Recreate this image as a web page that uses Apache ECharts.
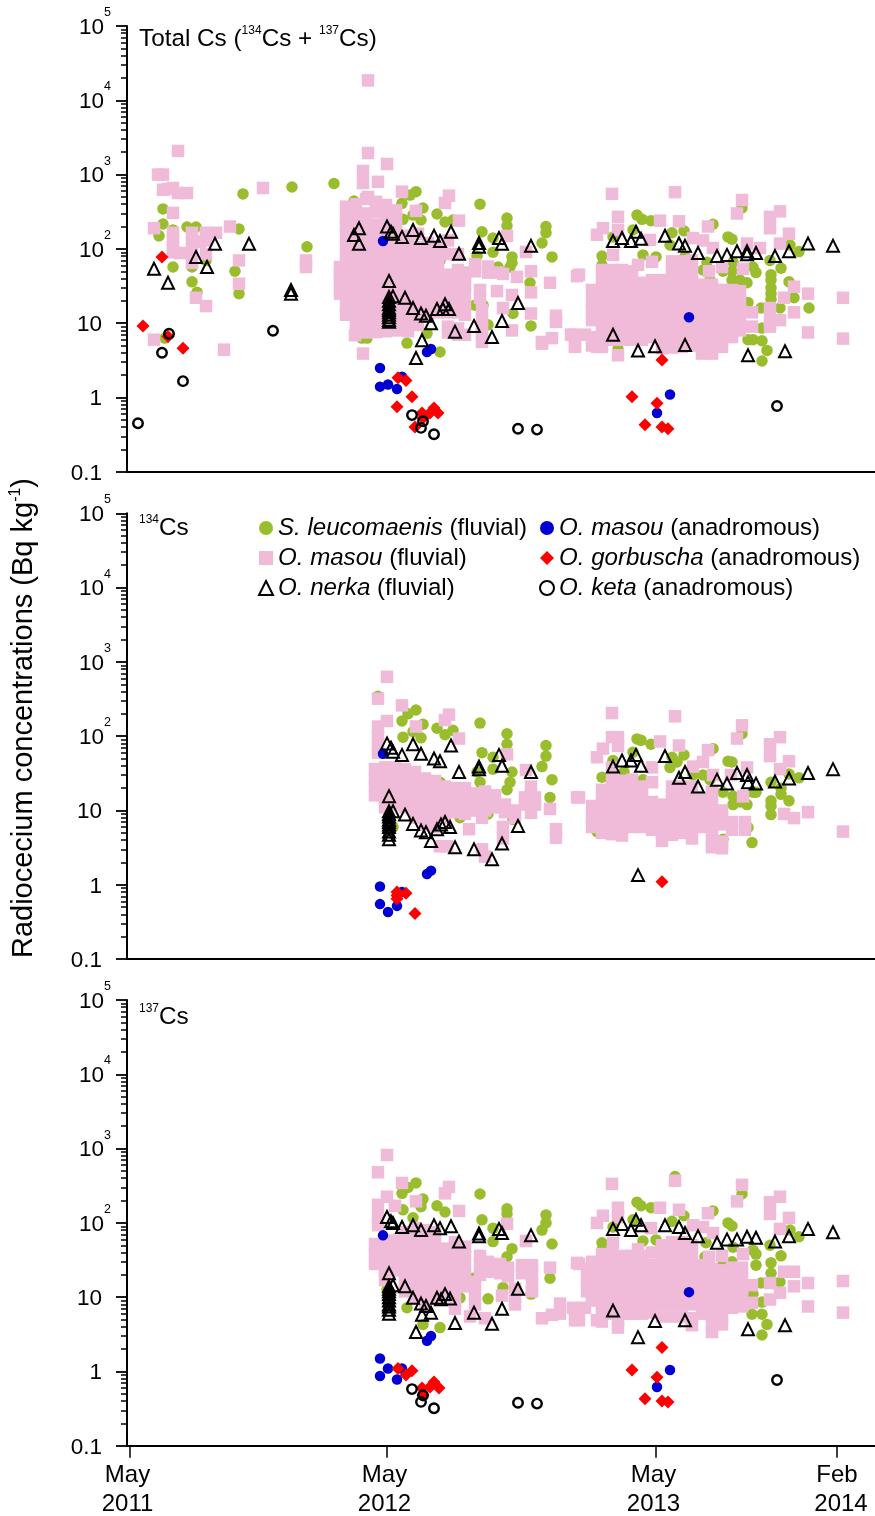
<!DOCTYPE html>
<html><head><meta charset="utf-8">
<style>html,body{margin:0;padding:0;background:#fff}#c{width:875px;height:1516px}</style>
<script src="https://cdn.jsdelivr.net/npm/echarts@6/dist/echarts.min.js"></script>
</head><body><div id="c"></div>
<script>
// x = position along the time axis (May 2011 = 0), y = Bq/kg. Each entry: [x, [values at that x]]
const xOrigin=3; // the axis starts 3 units before May 2011
const xTickValues=[0,257,526,707].map(v=>v+xOrigin);
const xTickLabels=['{a|May}\n{a|2011}','{a|May}\n{a|2012}','{a|May}\n{a|2013}','{c|Feb}\n{d|2014}'];
const decades=[0.1,1,10,100,1000,10000,100000];
const minorValues=[0.2,0.3,0.4,0.5,0.6,0.7,0.8,0.9,2,3,4,5,6,7,8,9,20,30,40,50,60,70,80,90,200,300,400,500,600,700,800,900,2000,3000,4000,5000,6000,7000,8000,9000,20000,30000,40000,50000,60000,70000,80000,90000];
const speciesNames=['S. leucomaenis (fluvial)','O. masou (fluvial)','O. nerka (fluvial)','O. masou (anadromous)','O. gorbuscha (anadromous)','O. keta (anadromous)'];

const totalPink=[[48,[2080]],[28,[1000]],[33,[1000,625]],[38,[640]],[43,[660,305,165,130,105,90]],[48,[565]],[57,[565]],[24,[190,6]],[50,[88]],[62,[165,120,90,65]],[70,[125]],[76,[165,130,85,17]],[86,[165]],[100,[200]],[109,[70,34]],[66,[22]],[94,[4.4]],[133,[660]],[176,[70,57]],
[238,[18500,1950,500]],[257,[1390]],[233,[1120,770,3.9]],[248,[800]],[272,[590]],[286,[325]],[315,[415]],[319,[520]],[329,[240]],[377,[150]],[396,[91]],[447,[43]],[420,[35]],[401,[50,26,13.5]],[426,[12.6,10.4]],[412,[5.6,5.3]],[422,[6.3]],[441,[7]],[445,[5]],[225,[6.9]],
[210,[57,47,38,30,25]],[216,[370,265,205,150,110,78,60,42,33,24,17,13]],[226,[400,280,210,155,108,80,58,44,31,24,17,13,9.5,8]],[236,[470,300,215,150,115,82,60,45,32,23,17,12.5,9,7.5]],[246,[430,310,210,152,112,80,61,43,33,23,18,13,9.5,7.6]],[256,[390,290,208,150,110,82,58,44,31,24,17,12.5,9,7.8]],[266,[330,240,190,140,105,80,58,43,32,24,18,13,10,8]],
[278,[150,110,85,60,45,33,24,18,13,10,7.8]],[288,[160,105,80,60,44,34,25,19,14,9.5]],[298,[120,85,62,44,33,25,18,13.5]],[308,[100,80,58,45,33,24,18,14]],[318,[130,85,45,35,26,19,14,9,7.5]],[328,[85,52,40,30,24,18,14,8.5,7]],[335,[48,42,33,25,18,13,7]],
[345,[62,50]],[358,[58,48]],[350,[28,22]],[352,[15,11,8.5,7,5.6]],[367,[48,27]],[373,[46,16]],[387,[42]],[382,[24,8]],
[449,[45]],[443,[7]],[445,[4.8]],[455,[7]],[467,[155,4.8]],[473,[190]],[482,[550]],[488,[270,180,3.7]],
[545,[580]],[530,[240]],[549,[235]],[578,[200]],[563,[140]],[573,[130]],[583,[103]],[612,[455]],[607,[300]],[640,[270,190,16,11,9]],[650,[320,118,11]],[659,[160]],[617,[118]],[630,[103]],[613,[54]],[592,[57]],[579,[50]],[522,[67]],[508,[61]],[520,[132]],[483,[83]],[664,[31,14]],[678,[25,7.5]],[654,[22]],[713,[22,6.2]],[622,[9,14]],
[462,[28,20,15,11,6.5,5]],[472,[52,38,28,20,15,11,8,6,4.8]],[482,[52,38,27,20,15,11,8,6]],[492,[52,38,28,21,15,11,8,6]],[502,[50,37,28,20,15,11,8.5,6]],[512,[35,27,20,15,11,8,6]],[522,[38,27,20,15,11,8,6.5]],[532,[38,27,20,15,11,8,6,4.6]],[542,[68,50,37,27,20,15,11,8,6,4.7]],[552,[68,50,36,27,20,15,11,8,6,4.8]],[562,[70,50,37,27,20,15,11,8,6,5]],[572,[33,26,20,15,11,8,6,4.6,3.9]],[582,[33,26,20,15,11,8,6,4.6,3.9]],[592,[28,21,15,11,8,6,4.8]],[602,[28,21,15,11,8,6.5]],[610,[27,20,15,11,8]]];
const totalGreen=[[33,[345,216]],[29,[150]],[57,[197]],[66,[197]],[43,[57,180]],[62,[57,36]],[67,[26]],[76,[70]],[113,[550]],[109,[185,25]],[105,[50]],[162,[680]],[204,[760]],[177,[107]],[35,[6.3]],
[237,[6.3]],[224,[440]],[218,[340]],[286,[590]],[272,[410,40]],[280,[530]],[293,[355]],[307,[295]],[350,[400]],[377,[260,205]],[416,[200,165]],[412,[120]],[422,[78]],[273,[250]],[283,[285]],[291,[245]],[315,[230]],[323,[245]],[352,[170]],[363,[140,90]],[382,[78,65]],[347,[80]],[310,[70,4.1]],[368,[57]],[380,[57]],[400,[35]],[330,[30]],[345,[17.5]],[353,[17.5]],[383,[13.5]],[358,[9.5]],[401,[9.2]],[277,[5.4]],[297,[7.3]],[232,[6.3]],[250,[8.5]],
[507,[285]],[512,[250]],[521,[240]],[503,[180]],[554,[175]],[583,[215]],[598,[145]],[602,[135,50,38]],[542,[165]],[472,[80,60]],[483,[145]],[612,[355]],[513,[83]],[526,[78]],[555,[78]],[540,[113]],[577,[66]],[573,[52]],[580,[38]],[593,[50]],[603,[66]],[610,[38]],[617,[35]],[623,[57,6]],[626,[48]],[641,[45,38,30,25,21]],[640,[70]],[651,[55]],[660,[113]],[669,[92]],[659,[36]],[664,[22]],[679,[16]],[650,[16]],[631,[16]],[632,[8.6,5.8,3.1]],[618,[19,6]],[637,[4.3]],[488,[4.5]]];
const totalBlue=[[253,[128]],[250,[2.5,1.4]],[258,[1.5]],[267,[1.3]],[272,[1.9]],[297,[4.1]],[301,[4.5]],[559,[12]],[540,[1.1]],[527,[0.62]]];
const totalTri=[[24,[54]],[38,[35]],[66,[78]],[77,[57]],[85,[117]],[119,[117]],[161,[28,25]],[224,[154]],[229,[190,117]],[257,[200]],[261,[170]],[263,[160]],[272,[145]],[283,[180]],[291,[140]],[304,[150]],[310,[128]],[321,[170]],[329,[86]],[349,[120,107]],[369,[140]],[372,[117,10.7]],[401,[110]],
[259,[37,22.6,20,18,16,15,14,13,12,11,10.5]],[263,[23]],[275,[22]],[283,[16]],[291,[13.5]],[296,[12.6]],[301,[10]],[307,[15.5]],[315,[18]],[313,[15.5]],[319,[15.5]],[292,[5.9]],[286,[3.4]],[325,[7.7]],[344,[9.2]],[362,[6.5]],[388,[18.7]],
[483,[128,7]],[492,[140]],[501,[128]],[506,[170]],[511,[137]],[535,[150]],[549,[118]],[555,[110,5.1]],[568,[88]],[587,[80]],[597,[83]],[607,[93]],[617,[93,85]],[626,[88]],[645,[80]],[659,[93]],[678,[118]],[703,[110]],[508,[4.3]],[525,[4.9]],[618,[3.7]],[655,[4.2]]];
const totalRed=[[13,[9.2]],[32,[78]],[38,[6.6]],[53,[4.6]],[268,[1.85]],[276,[1.7]],[282,[1.02]],[267,[0.75]],[292,[0.62]],[285,[0.4]],[293,[0.53]],[300,[0.62]],[304,[0.72]],[308,[0.62]],[532,[3.2,0.4]],[502,[1.02]],[527,[0.84]],[515,[0.43]],[538,[0.38]]];
const totalRing=[[8,[0.45]],[32,[4]],[39,[7.2]],[53,[1.66]],[143,[7.9]],[282,[0.58]],[293,[0.48]],[291,[0.39]],[304,[0.32]],[388,[0.38]],[407,[0.37]],[647,[0.77]]];

const cs134Pink=[[257,[630,160]],[248,[320,135,100,75,60]],[272,[260]],[286,[135]],[315,[165]],[319,[195]],[329,[93]],[377,[57]],[396,[35]],[447,[15]],[420,[10.5]],[401,[21,9.3]],[426,[5.6,4.3]],[339,[5.6]],[373,[6,4.2]],[310,[3.3]],[317,[3.3]],[352,[3,8]],[355,[2.4]],[382,[9.7]],[397,[13.5]],
[245,[36,27,21,16]],[255,[38,27,20,15,11]],[265,[38,28,21,16,12]],[275,[36,28,20,15,11]],[285,[33,25,19,14,11,8]],[295,[27,20,15,11,8.5,6.5]],[305,[25,19,14,11,8.5,6]],[315,[21,16,12,9.5,8]],[325,[20,15,12,9.5]],[335,[20,15,11,9]],[345,[17,13,10]],[355,[18,13,10]],[365,[16,11]],[375,[12,9.5]],[385,[10,8]],[395,[15,12]],[405,[15,12]],
[482,[205,97,38]],[545,[185]],[530,[85]],[549,[75]],[578,[65]],[563,[39]],[573,[45]],[612,[140]],[607,[93]],[640,[78,54]],[650,[97,36]],[659,[46]],[488,[97,74]],[473,[68]],[467,[52]],[449,[15]],[522,[38,24]],[617,[38]],[583,[30]],[601,[30]],[613,[15.5]],[654,[9]],[664,[7.9]],[678,[9.5]],[713,[5.2]],
[462,[11.5,8,6]],[472,[19,14,10.5,8,6,5]],[482,[26,19,14,10.5,8,6,4.8]],[492,[25,19,14,10.5,7.7,5.8,4.6]],[502,[26,19,14,10.5,8,6]],[512,[21,15,11,8,6]],[522,[13,10,7.5,5.5]],[532,[12,9,7,5,3.9]],[542,[21,15,11,8.5,6,4.7]],[552,[21,15,11,8,6.2,5]],[562,[21,15,11,8,5.8,4.2]],[572,[15,11,8,6]],[582,[18,14,10,7.5,5.5,4,3.2]],[592,[10,8,6.5,3.8,3.1]],[602,[7,5.5]],[615,[7,5.5]]];
const cs134Green=[[248,[345]],[286,[225]],[278,[200]],[272,[160]],[293,[145]],[307,[128]],[350,[150,24]],[377,[108,78,19]],[416,[75,54]],[412,[39]],[422,[26]],[420,[15]],[273,[97,18]],[283,[115]],[291,[95]],[315,[105]],[323,[120]],[352,[60]],[363,[52,36]],[382,[33]],[380,[24]],[347,[33]],[310,[24]],[402,[14]],[330,[8]],[383,[7.6]],[367,[11]],[358,[9]],[257,[10.5]],[263,[6]],
[507,[92]],[511,[88]],[521,[78]],[583,[68]],[554,[56]],[542,[52]],[503,[61]],[483,[47]],[598,[46]],[602,[45]],[612,[108]],[472,[28,18.5]],[494,[33]],[513,[26]],[540,[38]],[547,[45]],[563,[30]],[580,[26]],[573,[30]],[593,[17.6,4.1]],[603,[15.5,12]],[610,[13]],[617,[12]],[623,[17.6]],[626,[17.6]],[641,[24,13.5,11.5,8.8]],[651,[16.5,20]],[659,[31,13.5]],[669,[27.5]],[618,[5.9]],[622,[3.7]],[467,[5.2]]];
const cs134Blue=[[253,[58]],[250,[0.95,0.55]],[258,[0.43]],[267,[0.52]],[272,[0.8]],[297,[1.4]],[301,[1.55]]];
const cs134Tri=[[257,[80]],[261,[70]],[263,[62,9.8]],[272,[56]],[283,[78,6.6]],[291,[58,5.4]],[304,[50]],[310,[46]],[321,[75]],[329,[33]],[349,[39,36]],[369,[56]],[372,[40,3.6]],[401,[33]],
[259,[15.6,9.8,9,8.3,7.5,7,6.5,6,5.2,4.7,4.1]],[275,[8.8]],[296,[5.1]],[301,[3.9]],[307,[5.6]],[311,[6.5]],[315,[7]],[320,[6]],[325,[3.2]],[344,[3]],[362,[2.2]],[388,[6.2]],
[483,[39]],[492,[47]],[501,[47]],[506,[56]],[511,[40]],[535,[54]],[549,[27.5]],[555,[33]],[568,[21]],[587,[26]],[597,[23]],[607,[32]],[617,[30]],[618,[24]],[626,[23]],[645,[24.5]],[659,[27]],[678,[32]],[703,[36]],[508,[1.35]]];
const cs134Red=[[267,[0.72,0.8,0.65]],[276,[0.77]],[285,[0.41]],[532,[1.1]]];

const cs137Pink=[[257,[820,225]],[248,[480,175,120,93]],[272,[345]],[265,[170]],[286,[195]],[315,[250]],[319,[305]],[329,[145]],[377,[97]],[396,[57]],[447,[29]],[420,[25]],
[245,[52,38,28]],[255,[54,40,30,23,17]],[265,[58,42,30,23]],[275,[75,55,40,30,22,16,12]],[285,[85,60,45,33,24,18,13,10]],[295,[80,60,44,33,24,18,13,10,8]],[305,[75,55,40,30,22,17,13,9.5]],[315,[45,33,24,18,14,10]],[325,[55,40,30,22,17,13,9,7]],[335,[48,36,26,19,14]],[345,[16,11,8]],[350,[36,27,20]],[358,[30,22]],[370,[28,21]],[378,[25,19]],[385,[13,10,8]],[392,[27,21]],[402,[27,20,15,12]],[372,[10.5]],[422,[5.8]],[412,[5.2]],[445,[7.1]],[449,[4.9]],[430,[8.2,6]],[355,[5.2]],[340,[5.5]],
[482,[335]],[545,[370]],[612,[325]],[607,[195]],[530,[160]],[549,[150]],[578,[135]],[563,[93]],[573,[88]],[583,[73]],[640,[190,132,15.5,9.3]],[650,[225,83,11.5]],[659,[117]],[488,[160,120,5,3.9]],[473,[125]],[467,[100,4.9]],[521,[85]],[483,[54]],[508,[44]],[522,[40]],[592,[36]],[579,[35]],[613,[38]],[449,[28]],[654,[22]],[664,[22,14]],[678,[15.5,7.5]],[713,[16.5,6.2]],[622,[14.5,8.4]],[443,[7.2]],[445,[4.9]],[455,[7.2]],
[457,[24,17,12]],[462,[30,22,16,12,9]],[472,[38,28,20,15,11,8,6,4.7]],[482,[38,28,20,15,11,8,6]],[492,[36,27,20,15,11,8,6]],[502,[36,27,20,15,11,8,6]],[512,[36,28,20,15,11,8,6]],[522,[27,20,15,11,8,6.2]],[532,[50,37,27,20,15,11,8,5.5]],[542,[55,40,28,20,15,11,8,5.5]],[552,[55,40,28,20,15,11,8,5.5]],[562,[50,37,27,20,15,11,8,5.2,4.2]],[572,[27,20,15,11,8,6]],[582,[24,20,15,11,8,5.5,4.2,3.4]],[592,[23,17,13,10,7.5,5.5,4.3]],[602,[25,18,13,10,7.2]],[612,[25,18,13,10,7.5]]];
const cs137Green=[[286,[345]],[272,[250]],[278,[300]],[293,[210,4.3]],[307,[170]],[350,[245]],[377,[155,132,35]],[416,[128,100]],[412,[80]],[422,[52]],[420,[18]],[273,[150]],[283,[117]],[291,[190,165]],[315,[140]],[352,[110]],[363,[85,56]],[382,[45]],[312,[35]],[343,[18]],[358,[9.5]],[401,[11]],[330,[18,9.8]],[373,[13.5]],[277,[7.2]],[310,[3.9]],[257,[12.6]],[400,[21]],
[507,[190]],[511,[170,6.2]],[521,[160]],[503,[110]],[483,[88,40]],[472,[54,43]],[554,[125]],[583,[145]],[598,[100]],[602,[91,30]],[612,[245,25]],[542,[105]],[545,[420]],[513,[57]],[526,[59]],[533,[47]],[555,[52]],[576,[54]],[575,[35]],[603,[47]],[593,[31]],[623,[43,11]],[626,[38,27]],[641,[29,21]],[651,[36]],[660,[80]],[669,[65]],[640,[50]],[650,[16]],[631,[15.5]],[632,[8.6,5.9,3.1]],[622,[5.9]],[637,[4.3]],[584,[8.4]]];
const cs137Blue=[[253,[68]],[250,[1.5,0.87]],[258,[1.1]],[267,[0.78]],[272,[1.1]],[297,[2.6]],[301,[3]],[559,[11.7]],[540,[1.05]],[527,[0.62]]];
const cs137Tri=[[257,[120]],[261,[105]],[263,[100,14.5]],[272,[88]],[283,[93,9.8]],[291,[80,8.2]],[304,[93]],[310,[85]],[321,[90]],[329,[56]],[349,[72,66]],[369,[83]],[372,[73,7]],[401,[68]],
[259,[21,14,13,12,11,10,9,8,7.5,6.8,6]],[275,[14]],[296,[7.6]],[292,[5.8]],[301,[6.2]],[307,[9.8]],[311,[9.4]],[315,[11]],[320,[9.6]],[325,[4.5]],[344,[6.2]],[362,[4.4]],[388,[13]],[286,[3.4]],
[483,[83,6.6]],[492,[97]],[501,[80]],[506,[110]],[511,[93]],[535,[93]],[549,[88]],[555,[73,4.9]],[568,[66]],[587,[54]],[597,[60]],[607,[60]],[617,[65]],[626,[63]],[645,[56]],[659,[66]],[678,[83]],[703,[75]],[508,[2.9]],[525,[4.8]],[618,[3.7]],[655,[4.2]]];
const cs137Red=[[268,[1.1]],[276,[0.9]],[282,[1.02]],[292,[0.6]],[293,[0.48]],[300,[0.62]],[304,[0.72]],[309,[0.6]],[532,[2.1,0.4]],[502,[1.05]],[527,[0.84]],[515,[0.43]],[538,[0.39]]];
const cs137Ring=[[282,[0.58]],[293,[0.48]],[291,[0.39]],[304,[0.32]],[388,[0.38]],[407,[0.37]],[647,[0.77]]];

const font='"Liberation Sans",Arial,sans-serif';
const flat=c=>c.flatMap(([x,vs])=>vs.map(v=>[x+xOrigin,v]));
const styles=[
 {symbol:'circle',symbolSize:11.5,itemStyle:{color:'#9ABD2D',opacity:1}},
 {symbol:'rect',symbolSize:12.5,itemStyle:{color:'#F0BBD8',opacity:1}},
 {symbol:'triangle',symbolSize:12,itemStyle:{color:'rgba(0,0,0,0)',borderColor:'#000',borderWidth:2,opacity:1}},
 {symbol:'circle',symbolSize:10.5,itemStyle:{color:'#0000D2',opacity:1}},
 {symbol:'diamond',symbolSize:13,itemStyle:{color:'#FF0000',opacity:1}},
 {symbol:'circle',symbolSize:9.5,itemStyle:{color:'rgba(0,0,0,0)',borderColor:'#000',borderWidth:2.4,opacity:1}}];
const drawOrder=[0,1,3,2,4,5];
const panels=[[totalGreen,totalPink,totalTri,totalBlue,totalRed,totalRing],[cs134Green,cs134Pink,cs134Tri,cs134Blue,cs134Red,[]],[cs137Green,cs137Pink,cs137Tri,cs137Blue,cs137Red,cs137Ring]];
const tops=[26,513.3,1000],H=445.8;
const series=[];
panels.forEach((p,i)=>drawOrder.forEach(k=>series.push({type:'scatter',name:speciesNames[k],xAxisIndex:i,yAxisIndex:i,data:flat(p[k]),...styles[k],z:2+drawOrder.indexOf(k),animation:false,emphasis:{disabled:true}})));
const yMain=i=>({type:'log',logBase:10,gridIndex:i,min:0.1,max:100000,
  axisLine:{show:true,onZero:false,lineStyle:{color:'#000',width:2}},splitLine:{show:false},minorTick:{show:false},
  axisTick:{show:true,customValues:decades,length:11,lineStyle:{color:'#000',width:1.8}},
  axisLabel:{show:true,customValues:decades,margin:16,align:'right',color:'#000',fontFamily:font,
   formatter:v=>{const e=Math.round(Math.log10(v));return e<2?`{p|${e<0?'0.1':e==0?'1':'10'}}`:`{b|10}{s|${e}}`;},
   rich:{p:{fontSize:22.5,fontFamily:font,color:'#000',padding:[3,9,0,0],lineHeight:40},b:{fontSize:22.5,fontFamily:font,color:'#000',lineHeight:40,padding:[3,0,0,0]},s:{fontSize:12.5,fontFamily:font,color:'#000',verticalAlign:'top',lineHeight:14}}}});
// a second y axis crossing at x = 0 (the left edge) carries the shorter logarithmic minor ticks
const yMinor=i=>({type:'log',logBase:10,gridIndex:i,min:0.1,max:100000,axisLine:{show:false},splitLine:{show:false},axisLabel:{show:false},
  axisTick:{show:true,inside:true,customValues:minorValues,length:6,lineStyle:{color:'#000',width:1.5}}});
const sup={fontSize:12,fontFamily:font,fontWeight:'normal',color:'#000',verticalAlign:'top',lineHeight:14};
const ttl=(text,top)=>({text,left:139,top,padding:0,textStyle:{fontWeight:'normal',rich:{t:{fontSize:24.3,fontFamily:font,fontWeight:'normal',color:'#000',lineHeight:28},s:sup}}});
const legendRich={i:{fontStyle:'italic',fontSize:24.1,fontFamily:font,color:'#000'}};
const legendBase={orient:'vertical',padding:0,itemWidth:14,itemHeight:14,itemGap:6,selectedMode:false,textStyle:{fontSize:24.1,fontFamily:font,color:'#000',lineHeight:22.7,rich:legendRich},
  formatter:n=>{const m=n.match(/^(.*) (\(.*\))$/);return `{i|${m[1]}} ${m[2]}`;}};
const xTxt={fontSize:24,fontFamily:font,color:'#000',lineHeight:29};
const gridOf=t=>({left:127,top:t,width:748,height:H,containLabel:false,outerBoundsMode:'none'});
const chart=echarts.init(document.getElementById('c'),null,{renderer:'canvas'});
chart.setOption({animation:false,backgroundColor:'#fff',
 title:[ttl('{t|Total Cs (}{s|134}{t|Cs + }{s|137}{t|Cs)}',25),ttl('{s|134}{t|Cs}',514),ttl('{s|137}{t|Cs}',1003)],
 legend:[{...legendBase,left:258,top:516,data:speciesNames.slice(0,3)},{...legendBase,left:539,top:516,data:speciesNames.slice(3)}],
 grid:tops.map(gridOf),
 xAxis:[0,1,2].map(i=>({type:'value',gridIndex:i,min:0,max:748,splitLine:{show:false},
   axisLine:{show:true,onZero:false,lineStyle:{color:'#000',width:2}},
   axisTick:{show:i==2,customValues:xTickValues,length:12,lineStyle:{color:'#000',width:1.5}},
   axisLabel:{show:i==2,customValues:xTickValues,margin:15,color:'#000',fontFamily:font,fontSize:24,lineHeight:29,hideOverlap:false,
     formatter:v=>xTickLabels[xTickValues.indexOf(v)]||'',
     rich:{a:{...xTxt,padding:[0,5,0,0]},c:{...xTxt},d:{...xTxt,padding:[0,0,0,8]}}}})),
 yAxis:[0,1,2].map(yMain).concat([0,1,2].map(yMinor)),
 series,
 graphic:[{type:'text',x:24,y:718,rotation:Math.PI/2,style:{text:'{t|Radiocecium concentrations (Bq kg}{s|-1}{t|)}',align:'center',verticalAlign:'middle',rich:{t:{fontSize:29,fontFamily:font,fill:'#000',lineHeight:32},s:{fontSize:16,fontFamily:font,fill:'#000',verticalAlign:'top',lineHeight:16}}}}]
});
</script></body></html>
